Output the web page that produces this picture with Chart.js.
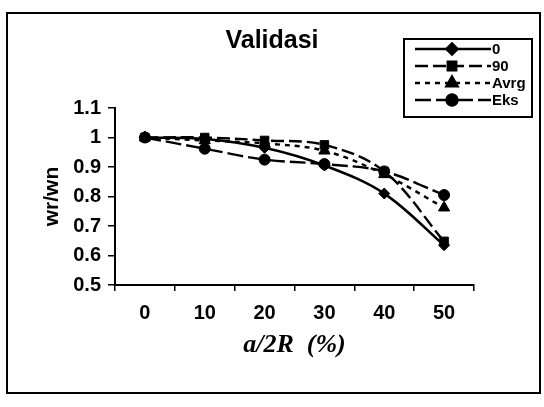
<!DOCTYPE html>
<html>
<head>
<meta charset="utf-8">
<script src="https://cdn.jsdelivr.net/npm/chart.js@4/dist/chart.umd.min.js"></script>
<style>
  html, body { margin: 0; padding: 0; background: #fff; }
  #wrap { position: relative; width: 544px; height: 407px; }
  #frame { position: absolute; left: 6px; top: 12px; width: 531px; height: 378px; border: 2px solid #000; pointer-events: none; }
</style>
</head>
<body>
<div id="wrap">
  <canvas id="c" width="544" height="407"></canvas>
  <div id="frame"></div>
</div>
<script>
// ---- data ----
const categories = ['0', '10', '20', '30', '40', '50'];
const seriesNames = ['0', '90', 'Avrg', 'Eks'];
const s0   = [1.000, 0.995, 0.965, 0.905, 0.810, 0.635];
const s90  = [1.000, 1.000, 0.990, 0.975, 0.885, 0.648];
const sAvg = [1.000, 0.990, 0.980, 0.955, 0.875, 0.762];
const sEks = [1.000, 0.962, 0.925, 0.910, 0.885, 0.805];
const yTicks = [0.5, 0.6, 0.7, 0.8, 0.9, 1.0, 1.1];

const FONT = '"Liberation Sans", Arial, sans-serif';

const styles = [
  { dash: [],       pointStyle: 'rectRot',  radius: 5.5 },
  { dash: [13, 5],  pointStyle: 'rect',     radius: 6 },
  { dash: [5, 5],   pointStyle: 'triangle', radius: 6.5 },
  { dash: [16, 5],  pointStyle: 'circle',   radius: 5.5 }
];
const seriesData = [s0, s90, sAvg, sEks];

const datasets = seriesData.map((d, i) => ({
  label: seriesNames[i],
  data: d,
  yAxisID: 'y',
  borderColor: '#000',
  backgroundColor: '#000',
  borderWidth: i === 0 ? 2.6 : 2.4,
  borderDash: styles[i].dash,
  pointStyle: styles[i].pointStyle,
  pointRadius: styles[i].radius,
  pointBackgroundColor: '#000',
  pointBorderColor: '#000',
  pointBorderWidth: 1,
  tension: 0.35,
  fill: false
}));

const legendPlugin = {
  id: 'boxLegend',
  afterDraw(chart) {
    const ctx = chart.ctx;
    ctx.save();
    ctx.lineWidth = 2;
    ctx.strokeStyle = '#000';
    ctx.setLineDash([]);
    ctx.strokeRect(404, 39, 128, 78);
    chart.data.datasets.forEach((ds, i) => {
      const y = 49 + i * 17;
      ctx.save();
      ctx.strokeStyle = '#000';
      ctx.lineWidth = ds.borderWidth;
      ctx.setLineDash(ds.borderDash || []);
      ctx.beginPath();
      ctx.moveTo(415, y);
      ctx.lineTo(491, y);
      ctx.stroke();
      ctx.setLineDash([]);
      ctx.fillStyle = '#000';
      Chart.helpers.drawPoint(ctx, { pointStyle: ds.pointStyle, radius: ds.pointRadius, rotation: 0, borderWidth: 1 }, 452, y);
      ctx.fill();
      ctx.restore();
      ctx.fillStyle = '#000';
      ctx.font = 'bold 15px ' + FONT;
      ctx.textBaseline = 'middle';
      ctx.textAlign = 'left';
      ctx.fillText(ds.label, 492, y + 1);
    });
    ctx.restore();
  }
};

new Chart(document.getElementById('c'), {
  type: 'line',
  data: { labels: categories, datasets },
  options: {
    responsive: false,
    animation: false,
    devicePixelRatio: 1,
    layout: { padding: 0 },
    plugins: {
      legend: { display: false },
      tooltip: { enabled: false },
      title: {
        display: true,
        text: 'Validasi',
        color: '#000',
        font: { family: FONT, size: 25, weight: 'bold', lineHeight: 1.2 },
        padding: { top: 26, bottom: 52 }
      }
    },
    scales: {
      x: {
        type: 'category',
        offset: true,
        grid: { offset: true, drawOnChartArea: false, drawTicks: true, tickLength: 6, color: '#000', lineWidth: 1.5 },
        border: { display: true, color: '#000', width: 2 },
        ticks: { color: '#000', padding: 10, font: { family: FONT, size: 20, weight: 'bold' }, maxRotation: 0 },
        title: {
          display: true,
          text: 'a/2R  (%)',
          color: '#000',
          font: { family: '"Liberation Serif", "Times New Roman", serif', size: 26, weight: 'bold', style: 'italic', lineHeight: 1.2 },
          padding: { top: 0, bottom: 46 }
        },
        afterFit(scale) { scale.height = 122; }
      },
      y: {
        position: 'left',
        min: 0.5,
        max: 1.1,
        afterBuildTicks(scale) { scale.ticks = yTicks.map(v => ({ value: v })); },
        grid: { drawOnChartArea: false, drawTicks: true, tickLength: 7, color: '#000', lineWidth: 1.5 },
        border: { display: true, color: '#000', width: 2 },
        ticks: {
          color: '#000',
          padding: 7,
          font: { family: FONT, size: 20, weight: 'bold' },
          callback: v => String(Math.round(v * 10) / 10)
        },
        title: {
          display: true,
          text: 'wr/wn',
          color: '#000',
          font: { family: FONT, size: 21, weight: 'bold', lineHeight: 1.2 },
          padding: { top: 40, bottom: 0 }
        },
        afterFit(scale) { scale.width = 115; }
      },
      yRightSpace: {
        position: 'right',
        display: true,
        min: 0.5,
        max: 1.1,
        grid: { display: false, drawTicks: false },
        border: { display: false },
        ticks: { display: false },
        afterFit(scale) { scale.width = 70; }
      }
    }
  },
  plugins: [legendPlugin]
});
</script>
</body>
</html>
